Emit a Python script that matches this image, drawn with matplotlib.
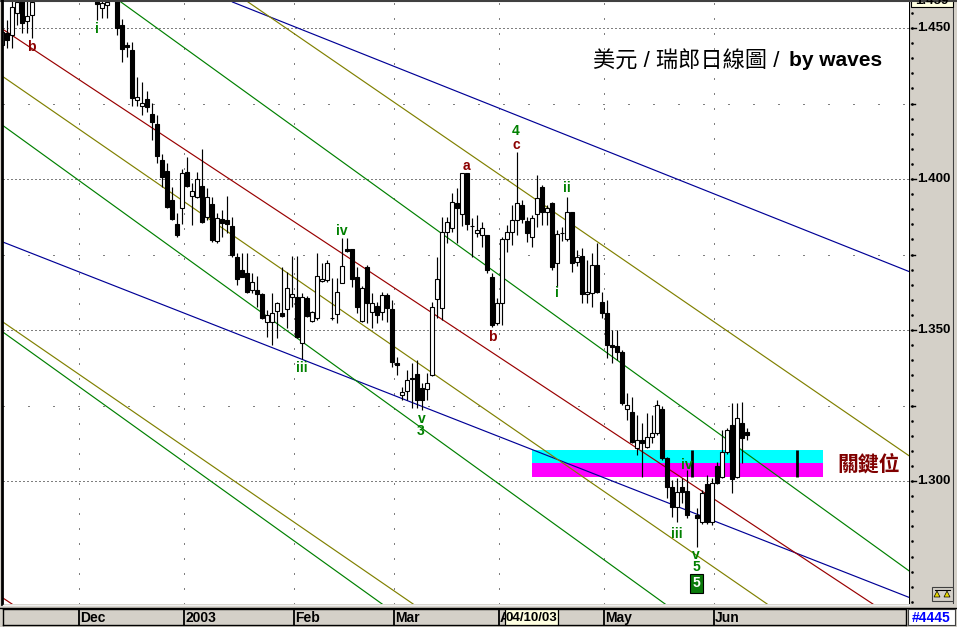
import numpy as np
import matplotlib
matplotlib.use("Agg")
import matplotlib.pyplot as plt
from matplotlib.patches import Rectangle, Polygon
from matplotlib.lines import Line2D

W, H = 957, 627

# ---------------- data (daily USD/CHF candles, index = trading day) ----------------
opens = [1.4444, 1.4484, 1.4477, 1.4550, 1.4610, 1.4523, 1.4543, 1.4620, 1.4710, 1.4680,
         1.4740, 1.4790, 1.4750, 1.4720, 1.4680, 1.4710, 1.4690, 1.4660, 1.4700, 1.4640,
         1.4567, 1.4576, 1.4610, 1.4650, 1.4510, 1.4444, 1.4427, 1.4262, 1.4242, 1.4265,
         1.4216, 1.4183, 1.4063, 1.4027, 1.3931, 1.3852, 1.3905, 1.4024, 1.3944, 1.3941,
         1.3977, 1.3875, 1.3918, 1.3795, 1.3868, 1.3865, 1.3845, 1.3742, 1.3699, 1.3689,
         1.3633, 1.3633, 1.3620, 1.3527, 1.3527, 1.3564, 1.3557, 1.3570, 1.3610, 1.3610,
         1.3458, 1.3607, 1.3531, 1.3540, 1.3663, 1.3666, 1.3540, 1.3554, 1.3656, 1.3769,
         1.3769, 1.3676, 1.3531, 1.3709, 1.3560, 1.3580, 1.3560, 1.3617, 1.3570, 1.3391,
         1.3286, 1.3299, 1.3342, 1.3355, 1.3309, 1.3305, 1.3352, 1.3603, 1.3574, 1.3825,
         1.3838, 1.3921, 1.3885, 1.4020, 1.3845, 1.3822, 1.3815, 1.3815, 1.3676, 1.3524,
         1.3590, 1.3802, 1.3825, 1.3865, 1.3914, 1.3862, 1.3809, 1.3885, 1.3974, 1.3891,
         1.3921, 1.3722, 1.3822, 1.3802, 1.3891, 1.3726, 1.3746, 1.3620, 1.3623, 1.3716,
         1.3593, 1.3557, 1.3451, 1.3448, 1.3428, 1.3239, 1.3229, 1.3110, 1.3137, 1.3113,
         1.3147, 1.3160, 1.3239, 1.3077, 1.2981, 1.2915, 1.2981, 1.2968, np.nan, 1.2888,
         1.2865, 1.2991, 1.2865, 1.3050, 1.3014, 1.3097, 1.3186, 1.3014, 1.3193, 1.3163]
highs = [1.4510, 1.4527, 1.4600, 1.4610, 1.4640, 1.4620, 1.4650, 1.4740, 1.4780, 1.4760,
         1.4820, 1.4850, 1.4800, 1.4770, 1.4740, 1.4780, 1.4730, 1.4720, 1.4750, 1.4720,
         1.4640, 1.4630, 1.4680, 1.4690, 1.4530, 1.4454, 1.4454, 1.4338, 1.4322, 1.4292,
         1.4252, 1.4212, 1.4083, 1.4053, 1.3974, 1.3888, 1.4034, 1.4073, 1.3986, 1.4024,
         1.4100, 1.3971, 1.3941, 1.3888, 1.3898, 1.3944, 1.3875, 1.3756, 1.3756, 1.3756,
         1.3689, 1.3679, 1.3623, 1.3567, 1.3623, 1.3593, 1.3709, 1.3693, 1.3746, 1.3746,
         1.3623, 1.3613, 1.3564, 1.3756, 1.3722, 1.3732, 1.3673, 1.3673, 1.3805, 1.3805,
         1.3769, 1.3709, 1.3646, 1.3716, 1.3623, 1.3593, 1.3626, 1.3623, 1.3600, 1.3411,
         1.3312, 1.3368, 1.3391, 1.3401, 1.3325, 1.3358, 1.3593, 1.3742, 1.3875, 1.3875,
         1.3954, 1.3971, 1.4020, 1.4020, 1.3871, 1.3881, 1.3858, 1.3815, 1.3689, 1.3607,
         1.3809, 1.3848, 1.3914, 1.4090, 1.3931, 1.3875, 1.3881, 1.4014, 1.3981, 1.3914,
         1.3924, 1.3832, 1.3842, 1.3941, 1.3891, 1.3765, 1.3772, 1.3732, 1.3756, 1.3789,
         1.3626, 1.3600, 1.3501, 1.3501, 1.3434, 1.3292, 1.3279, 1.3219, 1.3193, 1.3226,
         1.3219, 1.3269, 1.3249, 1.3080, 1.3004, 1.3011, 1.3011, 1.3037, np.nan, 1.2912,
         1.2971, 1.3020, 1.3011, 1.3063, 1.3170, 1.3176, 1.3259, 1.3259, 1.3262, 1.3176]
lows = [1.4384, 1.4434, 1.4434, 1.4510, 1.4484, 1.4484, 1.4467, 1.4605, 1.4660, 1.4640,
        1.4700, 1.4720, 1.4690, 1.4650, 1.4630, 1.4670, 1.4630, 1.4620, 1.4610, 1.4527,
        1.4533, 1.4533, 1.4600, 1.4477, 1.4388, 1.4404, 1.4242, 1.4242, 1.4212, 1.4222,
        1.4130, 1.4053, 1.3974, 1.3905, 1.3865, 1.3809, 1.3852, 1.3974, 1.3848, 1.3938,
        1.3855, 1.3865, 1.3792, 1.3789, 1.3809, 1.3822, 1.3742, 1.3650, 1.3676, 1.3623,
        1.3623, 1.3577, 1.3537, 1.3478, 1.3451, 1.3474, 1.3544, 1.3507, 1.3577, 1.3474,
        1.3405, 1.3544, 1.3527, 1.3534, 1.3660, 1.3660, 1.3534, 1.3524, 1.3656, 1.3759,
        1.3643, 1.3557, 1.3527, 1.3524, 1.3507, 1.3524, 1.3534, 1.3527, 1.3378, 1.3352,
        1.3269, 1.3269, 1.3243, 1.3243, 1.3236, 1.3269, 1.3348, 1.3540, 1.3534, 1.3789,
        1.3825, 1.3789, 1.3845, 1.3832, 1.3742, 1.3809, 1.3775, 1.3689, 1.3511, 1.3517,
        1.3517, 1.3759, 1.3782, 1.3815, 1.3855, 1.3792, 1.3775, 1.3842, 1.3848, 1.3848,
        1.3699, 1.3643, 1.3795, 1.3795, 1.3693, 1.3712, 1.3590, 1.3590, 1.3577, 1.3623,
        1.3540, 1.3408, 1.3391, 1.3401, 1.3252, 1.3203, 1.3127, 1.3087, 1.3014, 1.3110,
        1.3127, 1.3153, 1.3070, 1.2945, 1.2882, 1.2865, 1.2928, 1.2878, np.nan, 1.2782,
        1.2858, 1.2858, 1.2855, 1.2991, 1.3011, 1.3090, 1.2961, 1.3011, 1.3060, 1.3137]
closes = [1.4487, 1.4461, 1.4570, 1.4586, 1.4517, 1.4540, 1.4586, 1.4710, 1.4680, 1.4740,
          1.4790, 1.4750, 1.4720, 1.4680, 1.4710, 1.4690, 1.4660, 1.4700, 1.4640, 1.4580,
          1.4583, 1.4586, 1.4650, 1.4500, 1.4431, 1.4437, 1.4269, 1.4272, 1.4252, 1.4239,
          1.4189, 1.4077, 1.4007, 1.3908, 1.3868, 1.3815, 1.4020, 1.3977, 1.3961, 1.4001,
          1.3858, 1.3941, 1.3799, 1.3871, 1.3855, 1.3852, 1.3749, 1.3670, 1.3676, 1.3626,
          1.3660, 1.3620, 1.3540, 1.3550, 1.3557, 1.3590, 1.3547, 1.3640, 1.3620, 1.3478,
          1.3610, 1.3547, 1.3560, 1.3679, 1.3669, 1.3722, 1.3541, 1.3626, 1.3712, 1.3762,
          1.3670, 1.3577, 1.3640, 1.3590, 1.3590, 1.3550, 1.3617, 1.3574, 1.3395, 1.3385,
          1.3296, 1.3335, 1.3339, 1.3269, 1.3269, 1.3325, 1.3577, 1.3669, 1.3825, 1.3858,
          1.3924, 1.3904, 1.4020, 1.3852, 1.3845, 1.3832, 1.3838, 1.3699, 1.3517, 1.3590,
          1.3802, 1.3825, 1.3865, 1.3921, 1.3868, 1.3822, 1.3871, 1.3938, 1.3891, 1.3904,
          1.3709, 1.3818, 1.3822, 1.3891, 1.3722, 1.3742, 1.3620, 1.3626, 1.3716, 1.3626,
          1.3557, 1.3451, 1.3444, 1.3428, 1.3259, 1.3252, 1.3130, 1.3137, 1.3127, 1.3147,
          1.3160, 1.3252, 1.3077, 1.2981, 1.2915, 1.2965, 1.2965, 1.2888, np.nan, 1.2878,
          1.2961, 1.2865, 1.2994, 1.2994, 1.3097, 1.3170, 1.3007, 1.3209, 1.3143, 1.3153]

month_labels = ["Dec", "2003", "Feb", "Mar", "Apr", "May", "Jun"]
month_first_idx = [16, 37, 59, 79, 100, 121, 143]

major_levels = [1.300, 1.350, 1.400, 1.450]
major_labels = ["1.300", "1.350", "1.400", "1.450"]
minor_levels = [1.325, 1.375, 1.425]

# trend / channel lines: two points (index, price) each
blue_lines = [((59.6, 1.4497), (181.2, 1.3695)),
              ((-0.4, 1.3795), (181.2, 1.2616))]
red_lines = [((0.14, 1.4496), (173.6, 1.2599)),
             ((-0.4, 1.2619), (10.0, 1.2505))]
olive_lines = [((59.6, 1.4468), (181.2, 1.3086)),
               ((0.0, 1.4341), (153.0, 1.2593)),
               ((-0.4, 1.3533), (82.2, 1.2593))]
green_lines = [((23.2, 1.4593), (181.2, 1.2705)),
               ((0.6, 1.4172), (132.6, 1.2593)),
               ((-0.4, 1.3500), (76.0, 1.2593))]

zone_span = (105.9, 164.1)
cyan_zone = (1.3060, 1.3103)
magenta_zone = (1.3014, 1.3060)
key_bar_idx = [138, 159]
key_label = "關鍵位"

wave_labels = [("b", 5.94, 1.4436, "red"), ("i", 18.94, 1.4497, "green"),
               ("i", -0.25, 1.4355, "green"),
               ("iv", 67.94, 1.3829, "green"), ("iii", 59.94, 1.3375, "green"),
               ("v", 83.94, 1.3205, "green"), ("3", 83.74, 1.3164, "green"),
               ("a", 92.94, 1.4044, "red"), ("4", 102.8, 1.4159, "green"),
               ("c", 102.94, 1.4112, "red"), ("b", 98.06, 1.3478, "red"),
               ("ii", 112.94, 1.3970, "green"), ("i", 110.94, 1.3622, "green"),
               ("iv", 136.94, 1.3054, "green"), ("iii", 134.94, 1.2824, "green"),
               ("v", 138.8, 1.2754, "green"), ("5", 138.8, 1.2714, "green")]
boxed_label = ("5", 138.96, 1.2661)

title_cn = "美元 / 瑞郎日線圖 / "
title_en = "by waves"
cursor_date = "04/10/03"
last_price = "1.459"
record_id = "#4445"

# ---------------- layout helpers ----------------
def fx(px):
    return px / W

def fy(py):
    return 1 - py / H

def k_of(px):
    return (px - 2) / 5.0

def p_of(py):
    return 1.300 + (481 - py) / 3020.0

GREY = "#d4d0c8"
COL = {"green": "#008000", "red": "#8b0000"}

fig = plt.figure(figsize=(W / 100, H / 100), dpi=100, facecolor=GREY)

ax = fig.add_axes([fx(3), fy(604), (909 - 3) / W, (604 - 2) / H])
ax.set_facecolor("white")
X0, X1 = k_of(3), k_of(909)
Y0, Y1 = p_of(604), p_of(2)
ax.set_xlim(X0, X1)
ax.set_ylim(Y0, Y1)
ax.set_xticks([])
ax.set_yticks([])
for s in ax.spines.values():
    s.set_visible(False)

# grid
for v in major_levels:
    ax.axhline(v, color="black", lw=0.72, ls=(0, (1, 3)), zorder=0.5)
for v in minor_levels:
    ax.axhline(v, color="black", lw=0.72, ls=(0, (1, 24)), zorder=0.5)
for i in month_first_idx:
    ax.axvline(i - 0.7, color="black", lw=0.72, ls=(0, (1, 14)), zorder=0.5)

# key zone
ax.fill_between(zone_span, cyan_zone[0], cyan_zone[1], color="#00ffff", lw=0, zorder=1)
ax.fill_between(zone_span, magenta_zone[0], magenta_zone[1], color="#ff00ff", lw=0, zorder=1)

# trend lines
for group, col in ((blue_lines, "#000096"), (red_lines, "#990000"),
                   (olive_lines, "#808000"), (green_lines, "#008000")):
    for p1, p2 in group:
        ax.axline(p1, p2, color=col, lw=0.85, zorder=2)

# candles
o = np.array(opens, float)
h = np.array(highs, float)
l = np.array(lows, float)
c = np.array(closes, float)
idx = np.arange(len(o))
valid = ~np.isnan(o)
ax.vlines(idx[valid], l[valid], h[valid], color="black", lw=0.85, zorder=4)
up = valid & (c >= o)
dn = valid & (c < o)
bw = 0.66
ax.bar(idx[up], np.maximum(c[up] - o[up], 1e-6), bottom=o[up], width=bw,
       facecolor="white", edgecolor="black", lw=0.8, zorder=5)
ax.bar(idx[dn], o[dn] - c[dn], bottom=c[dn], width=bw,
       facecolor="black", edgecolor="black", lw=0.8, zorder=5)

# key-level bars
ax.vlines(key_bar_idx, magenta_zone[0], cyan_zone[1], color="black", lw=2.0, zorder=6)

# wave labels
for t, k, p, col in wave_labels:
    ax.text(k, p, t, color=COL[col], fontsize=10, fontweight="bold",
            family="Liberation Sans", ha="center", va="center", zorder=7, clip_on=True)
ax.text(boxed_label[1], boxed_label[2], boxed_label[0], color="white", fontsize=10,
        fontweight="bold", family="Liberation Sans", ha="center", va="center", zorder=7,
        bbox=dict(boxstyle="square,pad=0.18", fc="#0a7a0a", ec="black", lw=0.8))

# title & key label
fig.text(fx(593), fy(62), title_cn, fontsize=16, color="black",
         family=["Liberation Sans", "Noto Sans CJK TC"], ha="left", va="center")
fig.text(fx(789), fy(61), title_en, fontsize=15, color="black", fontweight="bold",
         family="Liberation Sans", ha="left", va="center")
fig.text(fx(869), fy(464), key_label, fontsize=15, color="#800000", fontweight="bold",
         family="Noto Sans CJK TC", ha="center", va="center")

# ---------------- right price panel ----------------
axr = fig.add_axes([fx(909), fy(604), 45 / W, (604 - 2) / H])
axr.set_facecolor(GREY)
axr.set_xlim(0, 1)
axr.set_ylim(Y0, Y1)
axr.set_xticks([])
axr.set_yticks([])
for s in axr.spines.values():
    s.set_visible(False)
axr.axvline(0.0, color="black", lw=1.5)
axr.axvline(1.0, color="#404040", lw=1.5)
small = np.arange(1.260, 1.460, 0.005)
axr.plot(np.full(len(small), 0.06), small, ls="none", marker="s", ms=0.8, color="black")
for v in minor_levels:
    axr.plot([0.04, 0.13], [v, v], color="black", lw=1)
for v, s in zip(major_levels, major_labels):
    axr.plot([0.04, 0.16], [v, v], color="black", lw=1)
    axr.text(0.17, v, s, fontsize=9.5, fontweight="bold", family="Liberation Sans",
             ha="left", va="center")

# last-price box at top (cut off by the figure edge, as in the original)
fig.patches.append(Rectangle((fx(911), fy(7)), 42 / W, 16 / H, transform=fig.transFigure,
                             fc="#ffffe1", ec="black", lw=0.8))
fig.text(fx(932), fy(1.5), last_price, fontsize=9.5, fontweight="bold",
         family="Liberation Sans", ha="center", va="center")

# scale icon
fig.patches.append(Rectangle((fx(932), fy(601)), 21 / W, 14 / H, transform=fig.transFigure,
                             fc=GREY, ec="#404040", lw=0.8))
fig.lines.append(Line2D([fx(935), fx(950)], [fy(590), fy(590)], transform=fig.transFigure,
                        color="black", lw=0.8))
for cx in (937, 947):
    fig.patches.append(Polygon([(fx(cx - 3), fy(597)), (fx(cx + 3), fy(597)), (fx(cx), fy(591))],
                               closed=True, transform=fig.transFigure, fc="#e8d800", ec="black", lw=0.5))

# ---------------- bottom date panel ----------------
axb = fig.add_axes([fx(3), fy(625), (906 - 3) / W, 16 / H])
axb.set_facecolor(GREY)
axb.set_xlim(k_of(3), k_of(906))
axb.set_ylim(0, 1)
axb.set_xticks([])
axb.set_yticks([])
for s in axb.spines.values():
    s.set_color("black")
    s.set_linewidth(1.0)
cursor_left, cursor_right = k_of(505), k_of(558)
for i, lab in zip(month_first_idx, month_labels):
    axb.axvline(i - 0.7, color="black", lw=1.3)
    t = axb.text(i - 0.4, 0.45, lab, fontsize=10, fontweight="bold", family="Liberation Sans",
                 ha="left", va="center")
    if i - 0.4 < cursor_left < i + 8:
        clip = Rectangle((i - 0.4, 0), cursor_left - (i - 0.4), 1, transform=axb.transData,
                         visible=False)
        axb.add_patch(clip)
        t.set_clip_path(clip)
axb.add_patch(Rectangle((cursor_left, 0.02), cursor_right - cursor_left, 0.96, fc="#ffffe1",
                        ec="black", lw=0.9, zorder=5))
axb.text((cursor_left + cursor_right) / 2, 0.45, cursor_date, fontsize=9.5, fontweight="bold",
         family="Liberation Sans", ha="center", va="center", zorder=6)

axid = fig.add_axes([fx(908), fy(625), 47 / W, 16 / H])
axid.set_facecolor("white")
axid.set_xticks([])
axid.set_yticks([])
for s in axid.spines.values():
    s.set_color("#404040")
axid.text(0.5, 0.45, record_id, color="#0000ff", fontsize=10, fontweight="bold",
          family="Liberation Sans", ha="center", va="center", transform=axid.transAxes)

# frame lines
fig.lines.append(Line2D([0, 1], [fy(0.5), fy(0.5)], transform=fig.transFigure, color="#404040", lw=1.5))
fig.lines.append(Line2D([fx(1.5), fx(1.5)], [fy(0), fy(604)], transform=fig.transFigure, color="black", lw=2))
fig.lines.append(Line2D([fx(3), fx(909)], [fy(605), fy(605)], transform=fig.transFigure, color="#f0f0f0", lw=1))
fig.lines.append(Line2D([0, 1], [fy(608), fy(608)], transform=fig.transFigure, color="black", lw=1))

fig.savefig("out.png", dpi=100, facecolor=GREY)
